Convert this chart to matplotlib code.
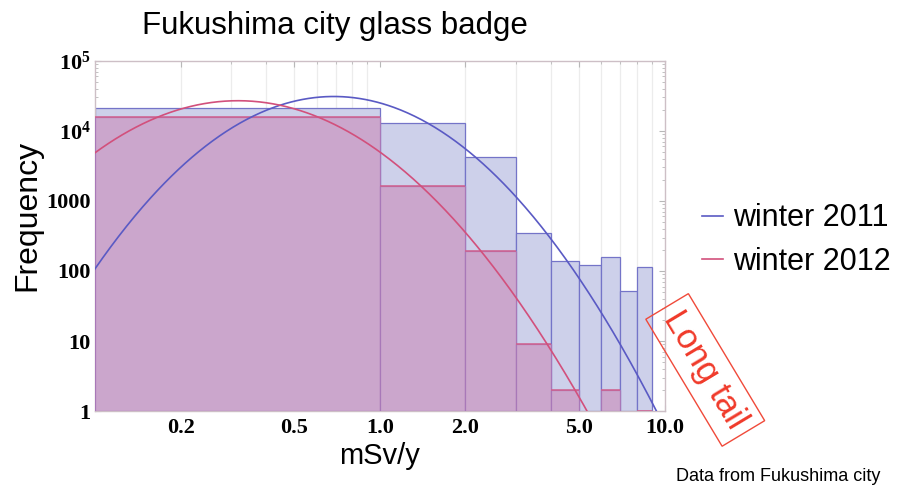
import numpy as np
import matplotlib
matplotlib.use("Agg")
import matplotlib.pyplot as plt
from matplotlib.ticker import FixedLocator, FixedFormatter, NullFormatter

# ---- data ----
bin_edges = [0.1, 1, 2, 3, 4, 5, 6, 7, 8, 9, 10]
counts_2011 = [21000, 13000, 4300, 350, 140, 122, 157, 51, 115, 0]
counts_2012 = [16000, 1640, 195, 9, 2, 0, 2, 0, 1, 0]
# log-normal fit curves: peak position (mSv/y), peak height, curvature in log10-log10 space
fit_2011 = dict(peak_x=0.69, peak_y=30900, curv=3.5)
fit_2012 = dict(peak_x=0.318, peak_y=26900, curv=2.95)
x_ticks = [0.2, 0.5, 1.0, 2.0, 5.0, 10.0]
x_tick_labels = ["0.2", "0.5", "1.0", "2.0", "5.0", "10.0"]
y_ticks = [1, 10, 100, 1000, 1e4, 1e5]
y_tick_labels = ["1", "10", "100", "1000", r"$10^4$", r"$10^5$"]
series_labels = ["winter 2011", "winter 2012"]

plt.rcParams['mathtext.fontset'] = 'custom'
plt.rcParams['mathtext.rm'] = 'Liberation Serif:bold'
plt.rcParams['mathtext.it'] = 'Liberation Serif:bold'
plt.rcParams['mathtext.bf'] = 'Liberation Serif:bold'

BLUE_FACE = '#cdd0ea'
BLUE_EDGE = '#7474c8'
RED_FACE = '#cba6cc'
RED_EDGE = '#d0608e'
BLUE_LINE = '#5a5ac4'
RED_LINE = '#d2507c'

fig = plt.figure(figsize=(9.03, 4.90), dpi=100)
ax = fig.add_axes([0.105, 0.161, 0.631, 0.715])
ax.set_xscale('log')
ax.set_yscale('log')
ax.set_xlim(0.1, 10)
ax.set_ylim(1, 1e5)

edges = np.array(bin_edges)
lefts = edges[:-1]
widths = np.diff(edges)
c11 = np.array(counts_2011, dtype=float)
c12 = np.array(counts_2012, dtype=float)

# blue bars
m11 = c11 > 0
ax.bar(lefts[m11], c11[m11] - 1, width=widths[m11], bottom=1, align='edge',
       color=BLUE_FACE, edgecolor=BLUE_EDGE, linewidth=0.9, zorder=2)
# red bars (on top)
m12 = c12 > 0
ax.bar(lefts[m12], np.maximum(c12[m12] - 1, 0), width=widths[m12], bottom=1, align='edge',
       color=RED_FACE, edgecolor='#a878b8', linewidth=0.9, zorder=3)
ax.hlines(c12[m12], lefts[m12], edges[1:][m12], color=RED_EDGE, linewidth=1.1, zorder=4)

# fit curves
u = np.linspace(-1, 1, 500)
xs = 10 ** u
lines = []
for fit, col in [(fit_2011, BLUE_LINE), (fit_2012, RED_LINE)]:
    logy = np.log10(fit['peak_y']) - fit['curv'] * (u - np.log10(fit['peak_x'])) ** 2
    ln, = ax.plot(xs, 10 ** logy, color=col, linewidth=1.2, zorder=5)
    lines.append(ln)

# grid
minor_x = [v * d for d in (0.1, 1) for v in range(2, 10)]
ax.xaxis.set_major_locator(FixedLocator(x_ticks))
ax.xaxis.set_major_formatter(FixedFormatter(x_tick_labels))
ax.xaxis.set_minor_locator(FixedLocator(minor_x))
ax.xaxis.set_minor_formatter(NullFormatter())
ax.yaxis.set_major_locator(FixedLocator(y_ticks))
ax.yaxis.set_major_formatter(FixedFormatter(y_tick_labels))
for xv in minor_x:
    ax.axvline(xv, color='#ececec', linewidth=0.9, zorder=1)

for sp in ax.spines.values():
    sp.set_color('#cdbfc6')
    sp.set_linewidth(1.0)
ax.tick_params(axis='both', which='both', direction='in', top=True, right=True,
               color='#b8b8b8')
ax.tick_params(axis='both', which='major', length=4)
ax.tick_params(axis='both', which='minor', length=2)
ax.tick_params(axis='x', which='major', pad=5)
ax.tick_params(axis='y', which='major', pad=3)
for lab in ax.get_xticklabels() + ax.get_yticklabels():
    lab.set_fontfamily('Liberation Serif')
    lab.set_fontweight('bold')
    lab.set_fontsize(16)

fig.text(27 / 903, 1 - 215 / 490, "Frequency", fontsize=23, fontfamily='Liberation Sans',
         rotation=90, ha='center', va='center')
ax.set_xlabel("mSv/y", fontsize=21, fontfamily='Liberation Sans', labelpad=3)
fig.text(0.371, 0.93, "Fukushima city glass badge", fontsize=22.5,
         fontfamily='Liberation Sans', ha='center', va='baseline')

fig.legend(lines, series_labels, loc='center left', bbox_to_anchor=(0.747, 0.51),
           frameon=False, handlelength=0.7, handletextpad=0.3,
           labelspacing=0.45, prop={'family': 'Liberation Sans', 'size': 22})

fig.text(0.781, 0.245, "Long tail", fontsize=25, color='#f03a2a',
         fontfamily='Liberation Sans', rotation=-59, ha='center', va='center',
         rotation_mode='anchor',
         bbox=dict(boxstyle='square,pad=0.24', facecolor='none',
                   edgecolor='#f04a3a', linewidth=1.0))

fig.text(0.975, 0.018, "Data from Fukushima city", fontsize=13,
         fontfamily='Liberation Sans', ha='right', va='baseline')

fig.savefig("out.png", dpi=100)
